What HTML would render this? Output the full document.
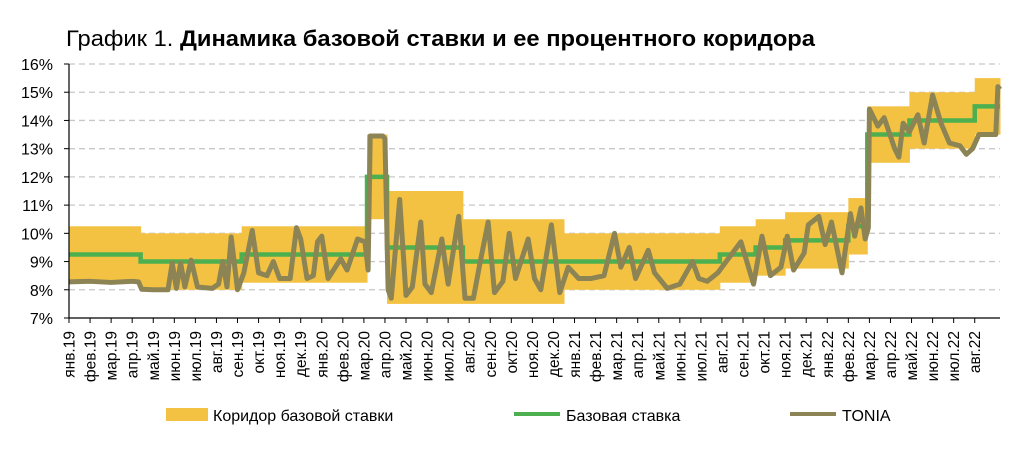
<!DOCTYPE html>
<html><head><meta charset="utf-8"><style>
body{margin:0;background:#fff;width:1024px;height:455px;overflow:hidden;font-family:"Liberation Sans","DejaVu Sans",sans-serif}
</style></head><body>
<svg id="chart" width="1024" height="455" xmlns="http://www.w3.org/2000/svg" font-family="Liberation Sans, DejaVu Sans, sans-serif">
<text x="66" y="46" font-size="22" fill="#000" textLength="749" lengthAdjust="spacingAndGlyphs">График 1. <tspan font-weight="bold">Динамика базовой ставки и ее процентного коридора</tspan></text>
<g id="grid"></g><g id="corr"></g><g id="rate"></g><g id="tonia"></g><g id="axes"></g>
<g>
<rect x="166" y="408" width="42" height="13" fill="#F4C242"/>
<text x="213" y="421" font-size="16">Коридор базовой ставки</text>
<line x1="514" y1="414" x2="560" y2="414" stroke="#4CAF50" stroke-width="4"/>
<text x="566" y="421" font-size="16">Базовая ставка</text>
<line x1="790" y1="414" x2="836" y2="414" stroke="#8C8455" stroke-width="4"/>
<text x="842" y="421" font-size="16">TONIA</text>
</g>
</svg>
<script>
const monthLabels=["янв.19","фев.19","мар.19","апр.19","май.19","июн.19","июл.19","авг.19","сен.19","окт.19","ноя.19","дек.19","янв.20","фев.20","мар.20","апр.20","май.20","июн.20","июл.20","авг.20","сен.20","окт.20","ноя.20","дек.20","янв.21","фев.21","мар.21","апр.21","май.21","июн.21","июл.21","авг.21","сен.21","окт.21","ноя.21","дек.21","янв.22","фев.22","мар.22","апр.22","май.22","июн.22","июл.22","авг.22"];
const yTicks=[7,8,9,10,11,12,13,14,15,16];
const corrStart=[0,3.4,8.2,14.15,15.1,18.7,23.5,30.9,32.6,34.0,37.0,37.9,39.9,43.0];
const corrEnd=[3.4,8.2,14.15,15.1,18.7,23.5,30.9,32.6,34.0,37.0,37.9,39.9,43.0,44.2];
const corrLow=[8.25,8,8.25,10.5,7.5,7.5,8,8.25,8.5,8.75,9.25,12.5,13,13.5];
const corrHigh=[10.25,10,10.25,13.5,11.5,10.5,10,10.25,10.5,10.75,11.25,14.5,15,15.5];
const rateStart=[0,3.4,8.2,14.15,15.1,18.7,30.9,32.6,34.0,37.0,37.9,39.9,43.0];
const rateVals=[9.25,9,9.25,12,9.5,9,9.25,9.5,9.75,10.25,13.5,14,14.5];
const toniaT=[0,1,2,3,3.3,3.45,4,4.7,4.9,5.1,5.3,5.5,5.8,6.1,6.8,7.1,7.3,7.5,7.7,8.0,8.3,8.7,9.0,9.4,9.7,10.0,10.5,10.8,11.0,11.3,11.6,11.8,12.0,12.3,12.9,13.2,13.7,14.05,14.2,14.3,14.9,15.0,15.15,15.3,15.7,16.0,16.3,16.7,16.9,17.2,17.7,18.0,18.5,18.8,19.2,19.5,19.9,20.2,20.6,20.9,21.2,21.8,22.1,22.4,22.9,23.3,23.7,24.2,24.8,25.4,25.9,26.2,26.6,26.9,27.5,27.8,28.4,29.0,29.6,29.9,30.3,30.8,31.2,31.9,32.5,32.9,33.3,33.8,34.1,34.4,34.9,35.1,35.6,35.9,36.2,36.7,37.1,37.3,37.6,37.8,37.95,38.0,38.4,38.7,39.2,39.4,39.6,39.9,40.3,40.6,41.0,41.4,41.8,42.3,42.6,42.9,43.2,43.6,44.0,44.1,44.2];
const toniaV=[8.28,8.3,8.26,8.3,8.28,8.02,8.0,8.0,8.95,8.05,8.95,8.1,9.05,8.1,8.05,8.2,9.0,8.1,9.87,8.0,8.6,10.1,8.6,8.5,9.0,8.4,8.4,10.2,9.8,8.4,8.5,9.7,9.9,8.4,9.1,8.7,9.8,9.7,8.7,13.45,13.45,13.35,8.0,7.7,11.2,7.8,8.1,10.4,8.2,7.9,9.8,8.2,10.6,7.7,7.7,8.9,10.4,7.9,8.3,10.0,8.4,9.8,8.4,8.0,10.3,7.9,8.8,8.4,8.4,8.5,10.0,8.8,9.5,8.4,9.4,8.6,8.05,8.2,9.0,8.4,8.3,8.6,9.0,9.7,8.2,9.9,8.5,8.8,9.9,8.7,9.3,10.3,10.6,9.6,10.4,8.6,10.7,9.9,10.9,9.8,10.2,14.4,13.8,14.1,13.0,12.7,13.9,13.6,14.2,13.2,14.9,13.9,13.2,13.1,12.8,13.0,13.5,13.5,13.5,15.2,15.1];
const X0=69,X1=1000,Y0=318,Y1=64,MMAX=44.2;
function xs(m){return X0+m*(X1-X0)/MMAX}
function ys(v){return Y0-(v-7)*(Y0-Y1)/9}
const NS="http://www.w3.org/2000/svg";
function mk(tag,parent,attrs){const e=document.createElementNS(NS,tag);for(const k in attrs)e.setAttribute(k,attrs[k]);document.getElementById(parent).appendChild(e);return e}
yTicks.forEach(v=>{
 if(v>7){const l=mk('line','grid',{x1:X0,x2:X1,y1:ys(v),y2:ys(v),stroke:'#c8c8c8','stroke-width':1.3,'stroke-dasharray':'6,4'});
 
 }
 const t=mk('text','axes',{x:53,y:ys(v)+6,'text-anchor':'end','font-size':16});
 t.textContent=v+'%';
 
 
 const tk=mk('line','axes',{x1:X0-5,x2:X0,y1:ys(v),y2:ys(v),stroke:'#000'});
 
 
});
corrStart.forEach((s,i)=>{
 const r=mk('rect','corr',{x:xs(s),y:ys(corrHigh[i]),width:xs(corrEnd[i])-xs(s)+0.5,height:ys(corrLow[i])-ys(corrHigh[i]),fill:'#F4C242'});
 
 
});
let d='';
rateStart.forEach((s,i)=>{const e=i+1<rateStart.length?rateStart[i+1]:MMAX;d+=(i?'L':'M')+xs(s)+','+ys(rateVals[i])+'L'+xs(e)+','+ys(rateVals[i]);});
const rp=mk('path','rate',{d:d,fill:'none',stroke:'#4CAF50','stroke-width':4.5});


const tp=mk('path','tonia',{d:toniaT.map((t,i)=>(i?'L':'M')+xs(t)+','+ys(toniaV[i])).join(''),fill:'none',stroke:'#8C8455','stroke-width':5,'stroke-linejoin':'round'});


const ya=mk('line','axes',{x1:X0,x2:X0,y1:Y1,y2:Y0,stroke:'#000','stroke-width':1.2});


const xa=mk('line','axes',{x1:X0,x2:X1,y1:Y0,y2:Y0,stroke:'#000','stroke-width':1.2});


monthLabels.forEach((lab,i)=>{
 const x=xs(i);
 const tk=mk('line','axes',{x1:x,x2:x,y1:Y0,y2:Y0+5,stroke:'#000'});
 
 
 const t=mk('text','axes',{x:0,y:0,'text-anchor':'end','font-size':15.5,transform:'translate('+(x+5.5)+',331) rotate(-90)'});
 t.textContent=lab;
 
 
});
</script>
</body></html>
